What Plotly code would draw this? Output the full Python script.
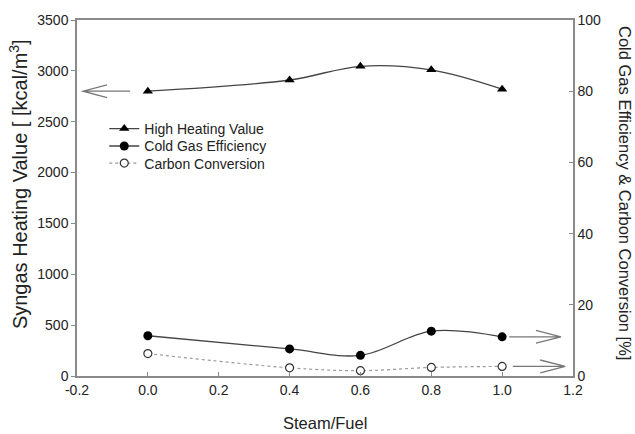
import plotly.graph_objects as go

# Steam/Fuel ratio and measured results
steam_fuel = [0.0, 0.4, 0.6, 0.8, 1.0]
high_heating_value = [2800, 2910, 3045, 3010, 2820]      # kcal/m3 (left axis)
cold_gas_efficiency = [11.3, 7.6, 5.8, 12.6, 11.0]       # % (right axis)
carbon_conversion = [6.3, 2.3, 1.5, 2.4, 2.7]            # % (right axis)

x_ticks = [-0.2, 0.0, 0.2, 0.4, 0.6, 0.8, 1.0, 1.2]
y_left_ticks = [0, 500, 1000, 1500, 2000, 2500, 3000, 3500]
y_right_ticks = [0, 20, 40, 60, 80, 100]

W, H = 635, 434
M = dict(l=77, r=62, t=14, b=58)
X_RANGE = [-0.2, 1.2]
Y1_RANGE = [0, 3500]
Y2_RANGE = [0, 100]
plot_w = W - M["l"] - M["r"]
plot_h = H - M["t"] - M["b"]

FONT = "Arial, Liberation Sans, sans-serif"
LINE = "#444444"
AXIS = "#8a8a8a"
ARROW = "#777777"

fig = go.Figure()
fig.add_trace(go.Scatter(
    x=steam_fuel, y=high_heating_value, name="High Heating Value",
    mode="lines+markers", line=dict(color=LINE, width=1.3, shape="spline"),
    marker=dict(symbol="triangle-up", size=9, color="black"),
    yaxis="y", legend="legend"))
fig.add_trace(go.Scatter(
    x=steam_fuel, y=cold_gas_efficiency, name="Cold Gas Efficiency",
    mode="lines+markers", line=dict(color=LINE, width=1.3, shape="spline"),
    marker=dict(symbol="circle", size=9, color="black"),
    yaxis="y2", legend="legend2"))
fig.add_trace(go.Scatter(
    x=steam_fuel, y=carbon_conversion, name="Carbon Conversion",
    mode="lines+markers", line=dict(color="#999999", width=1.2, dash="dot", shape="spline"),
    marker=dict(symbol="circle", size=8, color="white", line=dict(color="#333", width=1.2)),
    yaxis="y2", legend="legend3"))


def px_x(n):
    return n * (X_RANGE[1] - X_RANGE[0]) / plot_w


def px_y(n, rng):
    return n * (rng[1] - rng[0]) / plot_h


def open_arrow(x_tail, x_tip, y, yref, rng, back=24, half=6.5):
    # shaft plus an open V head pointing from tail to tip
    d = 1 if x_tip > x_tail else -1
    xb = x_tip - d * px_x(back)
    dy = px_y(half, rng)
    path = (f"M{x_tail},{y} L{x_tip},{y} "
            f"M{xb},{y + dy} L{x_tip},{y} L{xb},{y - dy}")
    return dict(type="path", path=path, xref="x", yref=yref,
                line=dict(color=ARROW, width=1.3))


shapes = [
    open_arrow(-0.05, -0.183, high_heating_value[0], "y", Y1_RANGE),
    open_arrow(1.02, 1.166, cold_gas_efficiency[-1], "y2", Y2_RANGE, back=25, half=6.5),
    open_arrow(1.03, 1.178, carbon_conversion[-1], "y2", Y2_RANGE, back=25, half=6.5),
]


def legend_row(y):
    return dict(x=0.055, y=y, xanchor="left", yanchor="middle",
                bgcolor="rgba(0,0,0,0)", font=dict(size=14, color="#222"))


fig.update_layout(
    width=W, height=H, margin=M,
    paper_bgcolor="white", plot_bgcolor="white",
    font=dict(family=FONT, size=14, color="#222"),
    showlegend=True,
    legend=legend_row(0.694),
    legend2=legend_row(0.645),
    legend3=legend_row(0.597),
    xaxis=dict(range=X_RANGE, tickvals=x_ticks, ticktext=[f"{v:.1f}" for v in x_ticks],
               ticks="inside", ticklen=4, tickcolor=AXIS, showline=True, linecolor=AXIS,
               linewidth=1.5, mirror=True, showgrid=False, zeroline=False),
    yaxis=dict(range=Y1_RANGE, tickvals=y_left_ticks, ticks="outside", ticklen=4,
               tickcolor=AXIS, showline=True, linecolor=AXIS, linewidth=1.5,
               showgrid=False, zeroline=False),
    yaxis2=dict(range=Y2_RANGE, tickvals=y_right_ticks, ticks="inside", ticklen=4,
                tickcolor=AXIS, overlaying="y", side="right", showline=True,
                linecolor=AXIS, linewidth=1.5, showgrid=False, zeroline=False),
    shapes=shapes,
    annotations=[
        dict(text="Steam/Fuel", x=0.5, xref="paper", y=0, yref="paper", yshift=-47,
             showarrow=False, font=dict(size=16.5), xanchor="center", yanchor="middle"),
        dict(text="Syngas Heating Value [ [kcal/m<sup>3</sup>]",
             x=0, xref="paper", xshift=-59, y=0.539, yref="paper",
             textangle=-90, showarrow=False, font=dict(size=20),
             xanchor="center", yanchor="middle"),
        dict(text="Cold Gas Efficiency & Carbon Conversion [%]",
             x=1.0, xref="paper", xshift=52, y=0.514, yref="paper",
             textangle=90, showarrow=False, font=dict(size=16.5),
             xanchor="center", yanchor="middle"),
    ],
)

fig.write_html("out.html")
